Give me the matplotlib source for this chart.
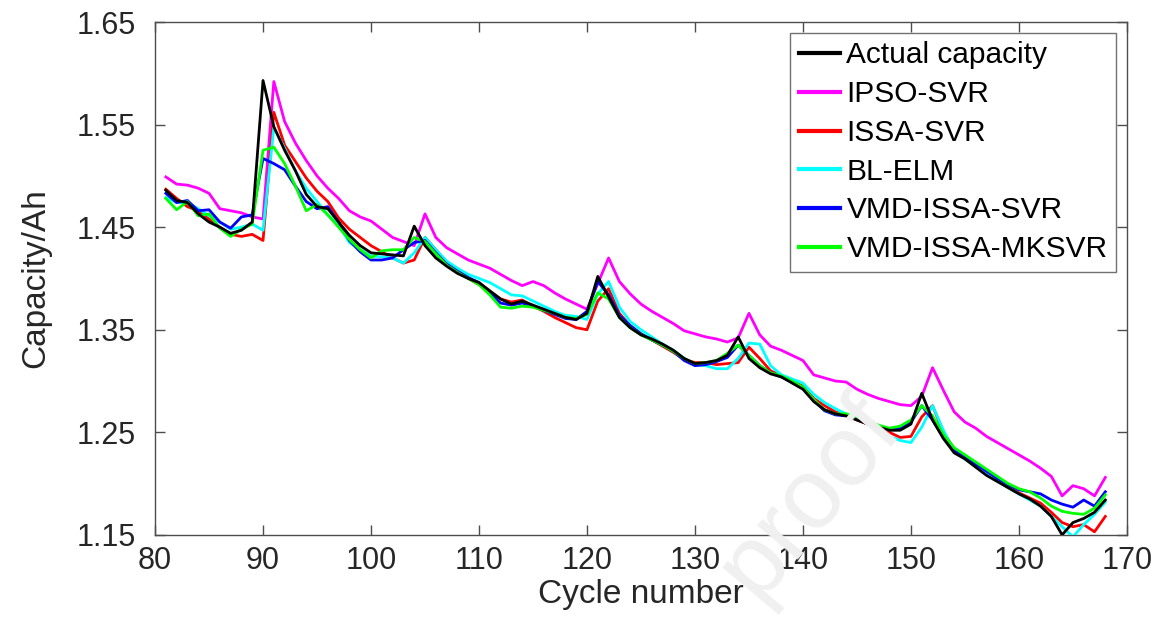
import matplotlib.pyplot as plt
import numpy as np

plt.rcParams['font.family'] = ['Liberation Sans', 'DejaVu Sans']

cycles = np.arange(81, 169)

actual = [1.486, 1.476, 1.474, 1.463, 1.455, 1.450, 1.444, 1.447, 1.455, 1.593,
          1.548, 1.525, 1.505, 1.482, 1.470, 1.468, 1.455, 1.442, 1.432, 1.425,
          1.424, 1.423, 1.422, 1.451, 1.432, 1.420, 1.412, 1.405, 1.400, 1.396,
          1.388, 1.380, 1.375, 1.378, 1.374, 1.370, 1.366, 1.362, 1.360, 1.366,
          1.402, 1.382, 1.362, 1.352, 1.345, 1.341, 1.336, 1.330, 1.322, 1.317,
          1.318, 1.320, 1.325, 1.343, 1.322, 1.313, 1.307, 1.304, 1.298, 1.292,
          1.280, 1.272, 1.268, 1.266, 1.262, 1.258, 1.255, 1.252, 1.252, 1.258,
          1.288, 1.262, 1.244, 1.230, 1.224, 1.216, 1.208, 1.202, 1.196, 1.190,
          1.185, 1.178, 1.168, 1.150, 1.162, 1.166, 1.172, 1.184]

ipso_svr = [1.499, 1.492, 1.491, 1.488, 1.483, 1.468, 1.466, 1.464, 1.460, 1.458,
            1.592, 1.553, 1.532, 1.515, 1.500, 1.488, 1.478, 1.466, 1.460, 1.456,
            1.448, 1.440, 1.436, 1.432, 1.463, 1.440, 1.430, 1.424, 1.418, 1.414,
            1.410, 1.404, 1.398, 1.393, 1.397, 1.393, 1.386, 1.380, 1.375, 1.370,
            1.395, 1.420, 1.397, 1.385, 1.375, 1.368, 1.362, 1.356, 1.349, 1.346,
            1.343, 1.341, 1.338, 1.342, 1.366, 1.345, 1.334, 1.330, 1.325, 1.320,
            1.306, 1.303, 1.300, 1.299, 1.292, 1.287, 1.283, 1.280, 1.277, 1.276,
            1.285, 1.313, 1.291, 1.270, 1.260, 1.254, 1.246, 1.240, 1.234, 1.228,
            1.222, 1.215, 1.207, 1.188, 1.198, 1.195, 1.188, 1.206]

issa_svr = [1.487, 1.478, 1.470, 1.466, 1.458, 1.450, 1.443, 1.441, 1.443, 1.437,
            1.562, 1.530, 1.514, 1.498, 1.485, 1.475, 1.459, 1.448, 1.440, 1.432,
            1.426, 1.420, 1.415, 1.418, 1.440, 1.428, 1.416, 1.408, 1.400, 1.394,
            1.387, 1.380, 1.377, 1.379, 1.373, 1.368, 1.362, 1.357, 1.352, 1.350,
            1.378, 1.390, 1.366, 1.354, 1.346, 1.340, 1.334, 1.328, 1.321, 1.318,
            1.318, 1.316, 1.317, 1.318, 1.333, 1.322, 1.310, 1.305, 1.300, 1.295,
            1.283, 1.276, 1.270, 1.267, 1.262, 1.258, 1.254, 1.250, 1.245, 1.246,
            1.265, 1.276, 1.250, 1.234, 1.226, 1.218, 1.210, 1.203, 1.197, 1.191,
            1.186, 1.181, 1.172, 1.162, 1.158, 1.160, 1.153, 1.168]

bl_elm = [1.479, 1.474, 1.474, 1.468, 1.461, 1.455, 1.448, 1.450, 1.453, 1.447,
          1.547, 1.527, 1.505, 1.488, 1.475, 1.462, 1.452, 1.435, 1.428, 1.422,
          1.421, 1.420, 1.415, 1.425, 1.440, 1.428, 1.417, 1.410, 1.404, 1.400,
          1.396, 1.390, 1.384, 1.383, 1.378, 1.373, 1.368, 1.364, 1.363, 1.360,
          1.385, 1.397, 1.372, 1.358, 1.350, 1.343, 1.336, 1.330, 1.322, 1.316,
          1.315, 1.312, 1.312, 1.322, 1.337, 1.336, 1.315, 1.306, 1.302, 1.298,
          1.287, 1.279, 1.273, 1.268, 1.264, 1.259, 1.252, 1.246, 1.242, 1.240,
          1.255, 1.276, 1.252, 1.232, 1.224, 1.217, 1.210, 1.203, 1.196, 1.190,
          1.184, 1.178, 1.168, 1.158, 1.148, 1.160, 1.170, 1.182]

vmd_issa_svr = [1.483, 1.474, 1.476, 1.466, 1.467, 1.455, 1.449, 1.460, 1.462, 1.517,
                1.512, 1.506, 1.490, 1.475, 1.468, 1.470, 1.455, 1.437, 1.426, 1.418,
                1.418, 1.420, 1.428, 1.435, 1.437, 1.425, 1.414, 1.407, 1.401, 1.396,
                1.386, 1.376, 1.374, 1.376, 1.373, 1.369, 1.365, 1.361, 1.360, 1.368,
                1.397, 1.384, 1.364, 1.354, 1.346, 1.340, 1.335, 1.329, 1.320, 1.315,
                1.316, 1.319, 1.323, 1.335, 1.325, 1.315, 1.308, 1.304, 1.299, 1.293,
                1.281, 1.271, 1.267, 1.266, 1.263, 1.259, 1.256, 1.253, 1.254, 1.260,
                1.276, 1.262, 1.245, 1.232, 1.226, 1.219, 1.212, 1.205, 1.199, 1.194,
                1.192, 1.190, 1.184, 1.180, 1.177, 1.184, 1.178, 1.192]

vmd_issa_mksvr = [1.478, 1.467, 1.475, 1.461, 1.463, 1.449, 1.441, 1.448, 1.453, 1.525,
                  1.528, 1.512, 1.490, 1.466, 1.472, 1.462, 1.450, 1.438, 1.428, 1.420,
                  1.427, 1.428, 1.428, 1.440, 1.436, 1.424, 1.413, 1.406, 1.400, 1.394,
                  1.384, 1.372, 1.371, 1.373, 1.372, 1.369, 1.366, 1.362, 1.361, 1.365,
                  1.386, 1.380, 1.362, 1.352, 1.345, 1.340, 1.335, 1.329, 1.322, 1.317,
                  1.318, 1.320, 1.327, 1.335, 1.325, 1.315, 1.308, 1.305, 1.300, 1.294,
                  1.282, 1.272, 1.268, 1.268, 1.265, 1.261, 1.257, 1.254, 1.256, 1.262,
                  1.276, 1.266, 1.248, 1.235, 1.228, 1.221, 1.214, 1.207, 1.200, 1.195,
                  1.192, 1.186, 1.178, 1.173, 1.171, 1.170, 1.176, 1.189]

series = [
    ("Actual capacity", actual, "black"),
    ("IPSO-SVR", ipso_svr, "#ff00ff"),
    ("ISSA-SVR", issa_svr, "#ff0000"),
    ("BL-ELM", bl_elm, "#00ffff"),
    ("VMD-ISSA-SVR", vmd_issa_svr, "#0000ff"),
    ("VMD-ISSA-MKSVR", vmd_issa_mksvr, "#00ff00"),
]

fig = plt.figure(figsize=(11.57, 6.3), dpi=100)

# faint diagonal mark across the lower right, behind everything
fig.text(0.70, 0.21, "proof", fontsize=72, color="#f0f0f0", rotation=50,
         ha="center", va="center", zorder=0)

ax = fig.add_axes([0.134, 0.151, 0.840, 0.814])
ax.patch.set_alpha(0)

# draw the reference curve last so it sits on top
handles = []
for name, vals, col in series:
    z = 5 if name == "Actual capacity" else 3
    h, = ax.plot(cycles, vals, color=col, lw=2.0, label=name, zorder=z)
    handles.append(h)

ax.set_xlim(80, 170)
ax.set_ylim(1.15, 1.65)
ax.set_xticks(np.arange(80, 171, 10))
ax.set_yticks([1.15, 1.25, 1.35, 1.45, 1.55, 1.65])
ax.set_yticklabels(["1.15", "1.25", "1.35", "1.45", "1.55", "1.65"])

axis_col = "#4d4d4d"
for sp in ax.spines.values():
    sp.set_color(axis_col)
    sp.set_linewidth(1.0)
ax.tick_params(direction="in", length=7, width=1, color=axis_col,
               labelsize=22, labelcolor="#262626", top=True, right=True, pad=8)
ax.tick_params(axis="y", pad=14)

ax.set_xlabel("Cycle number", fontsize=24, color="#262626", labelpad=2)
ax.set_ylabel("Capacity/Ah", fontsize=24, color="#262626", labelpad=18)

leg = ax.legend(handles=handles, loc="upper right", fontsize=21.5,
                frameon=True, fancybox=False, edgecolor=axis_col,
                handlelength=1.4, handletextpad=0.2, borderpad=0.3,
                labelspacing=0.36, borderaxespad=0.35)
leg.get_frame().set_linewidth(1.0)
for ln in leg.get_lines():
    ln.set_linewidth(3.0)

fig.savefig("out.png", dpi=100)
